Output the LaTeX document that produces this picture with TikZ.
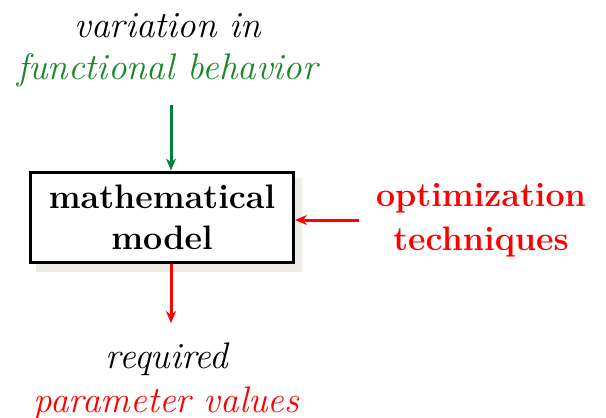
\documentclass[tikz,border=0pt]{standalone}
\usetikzlibrary{arrows.meta}
\definecolor{mygreen}{RGB}{25,135,40}
\definecolor{arrgreen}{RGB}{0,130,60}
\definecolor{shadowc}{RGB}{238,236,228}
\begin{document}
\begin{tikzpicture}[x=1pt,y=-1pt,
  txt/.style={font=\fontsize{37}{44}\selectfont\itshape, inner sep=0pt},
  arr/.style={line width=3pt, -{Stealth[length=12pt,width=10pt]}}]
\useasboundingbox (0,0) rectangle (606,418);
\fill[shadowc] (36,178) rectangle (302,272);
\node[draw, line width=3pt, fill=white, minimum width=263pt, minimum height=90pt,
  align=center, inner sep=0pt, font=\fontsize{34}{41}\selectfont\bfseries] (box) at (162,217) {mathematical\\model};
\node[txt, anchor=base] (vi) at (168,37) {variation in};
\node[txt, anchor=base, text=mygreen] (fb) at (167.5,79) {functional behavior};
\node[txt, align=center, text=red, font=\fontsize{34}{44}\selectfont\bfseries\upshape] (ot) at (481,220) {optimization\\techniques};
\node[txt, anchor=base] (rq) at (167,368) {required};
\node[txt, anchor=base, text=red] (pv) at (166.5,412) {parameter values};
\draw[arr, arrgreen, shorten <=18pt] ([xshift=3.5pt]fb.south) -- ([xshift=3.5pt]fb.south |- box.north);
\draw[arr, red, shorten <=17pt] (ot.west) -- (box.east |- ot.west);
\draw[arr, red, shorten >=19pt] ([xshift=4pt]box.south -| rq.north) -- ([xshift=4pt]rq.north);
\end{tikzpicture}
\end{document}
